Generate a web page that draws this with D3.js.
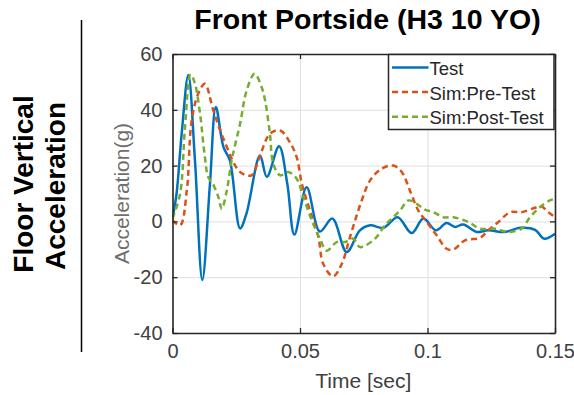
<!DOCTYPE html>
<html>
<head>
<meta charset="utf-8">
<script src="https://cdn.jsdelivr.net/npm/d3@7"></script>
<style>
  html, body { margin: 0; padding: 0; background: #fff; }
  svg { display: block; font-family: "Liberation Sans", Arial, Helvetica, sans-serif; }
</style>
</head>
<body>
<svg id="chart" width="574" height="395"></svg>
<script>
// Floor vertical acceleration, front portside (H3 10 YO)
const xTicks = [0, 0.05, 0.1, 0.15];
const xTickLabels = ["0", "0.05", "0.1", "0.15"];
const yTicks = [-40, -20, 0, 20, 40, 60];
const yTickLabels = ["-40", "-20", "0", "20", "40", "60"];
const seriesNames = ["Test", "Sim:Pre-Test", "Sim:Post-Test"];

// Test record: time [s], acceleration [g]
const testTime = [0, 0.0016, 0.0036, 0.0062, 0.0088, 0.0117, 0.0147, 0.0170, 0.0200, 0.0225,
  0.0265, 0.0290, 0.0343, 0.0370, 0.0418, 0.0450, 0.0478, 0.0526, 0.0578, 0.0627,
  0.0683, 0.0735, 0.0775, 0.0827, 0.0883, 0.0938, 0.0984, 0.1033, 0.1075, 0.1108,
  0.1140, 0.1193, 0.1238, 0.1304, 0.1363, 0.1422, 0.1458, 0.1500];
const testAccel = [1, 10, 31.5, 52.5, 22, -21, 13.6, 41, 26.6, 21.9,
  -2.5, 2.8, 23.6, 16, 26.9, 13.6, -4.7, 12.2, -3.6, 1,
  -11, -3.2, -1.4, -2.3, 1.5, -4.2, 1, -3.2, -0.6, -2,
  -1.1, -3.8, -3.2, -3.8, -2.3, -3, -6.2, -4.4];

// Pre-test simulation
const preTime = [0, 0.0030, 0.0056, 0.0075, 0.0101, 0.0127, 0.0160, 0.0200, 0.0265, 0.0310,
  0.0337, 0.0382, 0.0422, 0.0460, 0.0487, 0.0507, 0.0539, 0.0572, 0.0591, 0.0630,
  0.0664, 0.0696, 0.0742, 0.0775, 0.0820, 0.0866, 0.0899, 0.0931, 0.0964, 0.0997,
  0.1036, 0.1075, 0.1101, 0.1147, 0.1206, 0.1238, 0.1278, 0.1324, 0.1369, 0.1422,
  0.1445, 0.1474, 0.1500];
const preAccel = [0.4, -1.4, 11, 36, 45.8, 49.3, 39.8, 29.6, 17.7, 16.5,
  21.9, 31.4, 32.6, 28.4, 23, 13.6, 3.9, -5.6, -15.2, -19.7,
  -15.2, -5.6, 7.5, 14.7, 18.9, 20, 17.7, 11.1, 3.9, -0.2,
  -5, -9.8, -10.1, -6.8, -5.9, -3.2, -0.2, 3.3, 3.3, 4.9,
  5.4, 3.3, 1.5];

// Post-test simulation
const postTime = [0, 0.0030, 0.0049, 0.0071, 0.0088, 0.0108, 0.0127, 0.0140, 0.0158, 0.0180,
  0.0193, 0.0213, 0.0232, 0.0265, 0.0291, 0.0322, 0.0350, 0.0363, 0.0382, 0.0395,
  0.0422, 0.0454, 0.0487, 0.0513, 0.0546, 0.0578, 0.0605, 0.0644, 0.0676, 0.0709,
  0.0735, 0.0794, 0.0833, 0.0860, 0.0892, 0.0925, 0.0958, 0.0990, 0.1023, 0.1062,
  0.1101, 0.1160, 0.1206, 0.1265, 0.1317, 0.1369, 0.1402, 0.1441, 0.1480, 0.1500];
const postAccel = [1, 10, 33.8, 52.7, 49.4, 38.6, 23, 15.9, 13.5, 8.7,
  4.5, 11.1, 21.9, 35, 47, 52.9, 48, 43.4, 31.4, 20.7,
  16.5, 17.7, 15.3, 8.7, 0.4, -6.2, -10.5, -7.4, -7.4, -6.2,
  -9.2, -6.2, -1.4, 1, 3.9, 7.5, 6.3, 4.2, 3.3, 1.5,
  1.5, -0.2, -2.6, -2.6, -3.8, -2.6, 1.5, 5.1, 7.5, 8.1];

const series = [
  { name: seriesNames[0], t: testTime, g: testAccel, color: "#0072BD", dash: null },
  { name: seriesNames[1], t: preTime, g: preAccel, color: "#D95319", dash: "6,4" },
  { name: seriesNames[2], t: postTime, g: postAccel, color: "#77AC30", dash: "6,4" }
];

const svg = d3.select("#chart");
const plotLeft = 172.5, plotRight = 555, plotTop = 54, plotBottom = 333;

const x = d3.scaleLinear().domain([0, 0.15]).range([plotLeft, plotRight]);
const y = d3.scaleLinear().domain([-40, 60]).range([plotBottom, plotTop]);

// Grid
const grid = svg.append("g").attr("class", "grid");
grid.append("g")
  .attr("transform", `translate(0,${plotBottom})`)
  .call(d3.axisBottom(x).tickValues(xTicks).tickSize(-(plotBottom - plotTop)).tickFormat(""))
  .call(g => g.select(".domain").remove())
  .call(g => g.selectAll("line").attr("stroke", "#dfdfdf").attr("stroke-width", 1));
grid.append("g")
  .attr("transform", `translate(${plotLeft},0)`)
  .call(d3.axisLeft(y).tickValues(yTicks).tickSize(-(plotRight - plotLeft)).tickFormat(""))
  .call(g => g.select(".domain").remove())
  .call(g => g.selectAll("line").attr("stroke", "#dfdfdf").attr("stroke-width", 1));

// Series
svg.append("clipPath").attr("id", "plotClip")
  .append("rect").attr("x", plotLeft).attr("y", plotTop)
  .attr("width", plotRight - plotLeft).attr("height", plotBottom - plotTop);

const line = d3.line().curve(d3.curveCatmullRom.alpha(0.5));
const lines = svg.append("g").attr("clip-path", "url(#plotClip)");
series.forEach(s => {
  lines.append("path")
    .datum(s.t.map((t, i) => [x(t), y(s.g[i])]))
    .attr("d", line)
    .attr("fill", "none")
    .attr("stroke", s.color)
    .attr("stroke-width", 2.5)
    .attr("stroke-linejoin", "round")
    .attr("stroke-dasharray", s.dash);
});

// Axes (ticks point inward)
const axisColor = "#262626";
const labelColor = "#404040";
function styleAxis(g) {
  g.select(".domain").attr("stroke", axisColor).attr("stroke-width", 1.6);
  g.selectAll(".tick line").attr("stroke", axisColor).attr("stroke-width", 1.3);
  g.selectAll(".tick text").attr("fill", labelColor).attr("font-size", 20)
    .attr("font-family", "Liberation Sans, Arial, sans-serif");
}
svg.append("g")
  .attr("transform", `translate(0,${plotBottom})`)
  .call(d3.axisBottom(x).tickValues(xTicks).tickSizeInner(-5).tickSizeOuter(0).tickPadding(11)
    .tickFormat((d, i) => xTickLabels[i]))
  .call(styleAxis);
svg.append("g")
  .attr("transform", `translate(${plotLeft},0)`)
  .call(d3.axisLeft(y).tickValues(yTicks).tickSizeInner(-5).tickSizeOuter(0).tickPadding(10)
    .tickFormat((d, i) => yTickLabels[i]))
  .call(styleAxis);
svg.append("g")
  .attr("transform", `translate(0,${plotTop})`)
  .call(d3.axisTop(x).tickValues(xTicks).tickSizeInner(-5).tickSizeOuter(0).tickFormat(""))
  .call(styleAxis);
svg.append("g")
  .attr("transform", `translate(${plotRight},0)`)
  .call(d3.axisRight(y).tickValues(yTicks).tickSizeInner(-5).tickSizeOuter(0).tickFormat(""))
  .call(styleAxis);

// Axis titles
svg.append("text")
  .attr("x", (plotLeft + plotRight) / 2 - 0.5).attr("y", 388)
  .attr("text-anchor", "middle")
  .attr("font-size", 21).attr("fill", labelColor)
  .text("Time [sec]");
svg.append("text")
  .attr("transform", "translate(129,193.5) rotate(-90)")
  .attr("text-anchor", "middle")
  .attr("font-size", 21).attr("fill", "#6e6e6e")
  .text("Acceleration(g)");

// Title
svg.append("text")
  .attr("x", 367.5).attr("y", 29)
  .attr("text-anchor", "middle")
  .attr("font-size", 28.5).attr("font-weight", "bold").attr("fill", "#000")
  .text("Front Portside (H3 10 YO)");

// Row label with divider
svg.append("text")
  .attr("transform", "translate(33,184) rotate(-90)")
  .attr("text-anchor", "middle")
  .attr("font-size", 28).attr("font-weight", "bold").attr("fill", "#000")
  .text("Floor Vertical");
svg.append("text")
  .attr("transform", "translate(65,186) rotate(-90)")
  .attr("text-anchor", "middle")
  .attr("font-size", 28).attr("font-weight", "bold").attr("fill", "#000")
  .text("Acceleration");
svg.append("line")
  .attr("x1", 81.5).attr("x2", 81.5).attr("y1", 20).attr("y2", 352)
  .attr("stroke", "#000").attr("stroke-width", 1.5);

// Legend
const legend = svg.append("g");
legend.append("rect")
  .attr("x", 388.5).attr("y", 54.5).attr("width", 165.5).attr("height", 75)
  .attr("fill", "#fff").attr("stroke", axisColor).attr("stroke-width", 1.5);
series.forEach((s, i) => {
  const cy = 67.5 + i * 24.6;
  legend.append("line")
    .attr("x1", 392).attr("x2", 428.5).attr("y1", cy).attr("y2", cy)
    .attr("stroke", s.color).attr("stroke-width", 2.5)
    .attr("stroke-dasharray", s.dash);
  legend.append("text")
    .attr("x", 429.5).attr("y", cy + 7.5)
    .attr("font-size", 18.5).attr("fill", "#262626")
    .text(s.name);
});
</script>
</body>
</html>
